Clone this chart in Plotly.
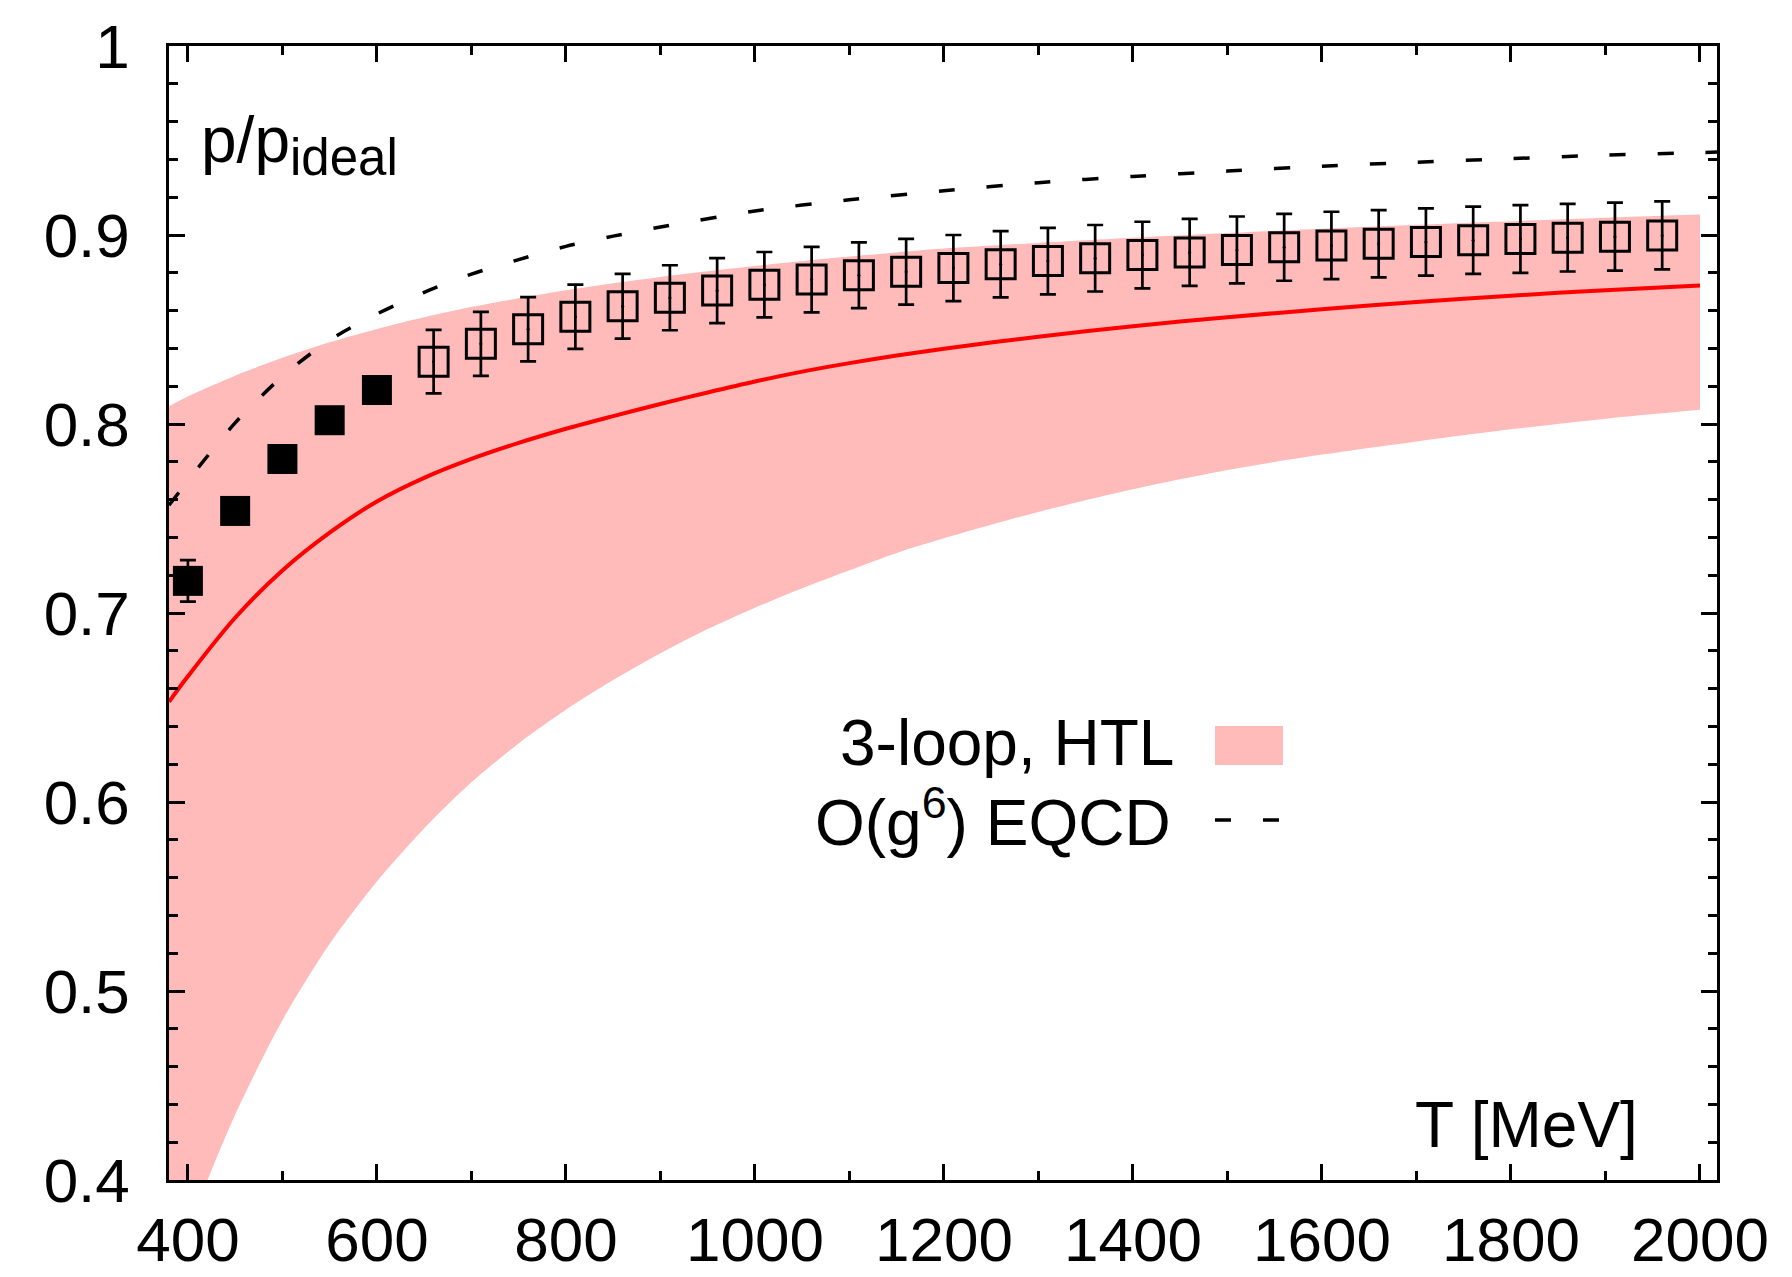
import plotly.graph_objects as go

# ---------------- data ----------------
# lattice data, filled squares
T_filled = [400, 450, 500, 550, 600]
p_filled = [0.717, 0.754, 0.7815, 0.802, 0.818]
err_filled = [0.011, 0.006, 0.006, 0.006, 0.006]

# lattice data, open squares
T_open = [660, 710, 760, 810, 860, 910, 960, 1010, 1060, 1110, 1160, 1210, 1260,
          1310, 1360, 1410, 1460, 1510, 1560, 1610, 1660, 1710, 1760, 1810, 1860,
          1910, 1960]
p_open = [0.833, 0.8424, 0.8501, 0.8567, 0.8623, 0.8668, 0.8706, 0.8737, 0.8764,
          0.8787, 0.8806, 0.8825, 0.8845, 0.8862, 0.8877, 0.8894, 0.8908, 0.8921,
          0.8935, 0.8945, 0.8954, 0.8963, 0.8972, 0.8979, 0.8986, 0.8991, 0.8998]
err_open = [0.0168, 0.0169, 0.017, 0.017, 0.0171, 0.0172, 0.0172, 0.0173, 0.0173,
            0.0174, 0.0174, 0.0175, 0.0175, 0.0176, 0.0176, 0.0176, 0.0177, 0.0177,
            0.0177, 0.0178, 0.0178, 0.0178, 0.0178, 0.0179, 0.0179, 0.018, 0.018]

# 3-loop HTL band (upper / lower) and central curve
T_htl = [380, 400, 450, 500, 550, 600, 650, 700, 750, 800, 850, 900, 950, 1000,
         1050, 1100, 1150, 1200, 1300, 1400, 1500, 1600, 1700, 1800, 1900, 2000]
htl_upper = [0.8094, 0.8145, 0.8255, 0.835, 0.8432, 0.8503, 0.8565, 0.8619, 0.8666,
             0.8708, 0.8745, 0.8778, 0.8808, 0.8836, 0.8862, 0.8886, 0.8908, 0.8928,
             0.8958, 0.8985, 0.901, 0.9033, 0.9054, 0.9073, 0.9091, 0.9108]
htl_lower = [0.346, 0.374, 0.4345, 0.4845, 0.525, 0.558, 0.586, 0.6104, 0.631,
             0.6488, 0.6645, 0.6787, 0.6915, 0.7028, 0.7131, 0.7226, 0.7318, 0.7395,
             0.7535, 0.7655, 0.7757, 0.7838, 0.7908, 0.7972, 0.8028, 0.8075]
htl_central = [0.653, 0.6665, 0.6975, 0.7225, 0.7425, 0.759, 0.7715, 0.7815, 0.790,
               0.7975, 0.8042, 0.8106, 0.8167, 0.8225, 0.8277, 0.8322, 0.8362,
               0.8398, 0.8462, 0.8517, 0.8565, 0.8607, 0.8645, 0.8679, 0.8708,
               0.8733]

# O(g^6) EQCD (dashed)
T_eqcd = [380, 400, 450, 500, 550, 600, 650, 700, 750, 800, 850, 900, 1000, 1100,
          1200, 1300, 1400, 1500, 1600, 1700, 1800, 1900, 2000, 2018]
p_eqcd = [0.757, 0.770, 0.8006, 0.8252, 0.8444, 0.8582, 0.8697, 0.8793, 0.887,
          0.894, 0.8994, 0.9042, 0.9127, 0.9186, 0.9234, 0.9277, 0.931, 0.9338,
          0.9364, 0.9385, 0.9404, 0.9423, 0.9436, 0.9439]

x_ticks = [400, 600, 800, 1000, 1200, 1400, 1600, 1800, 2000]
y_ticks = [0.4, 0.5, 0.6, 0.7, 0.8, 0.9, 1.0]
y_ticklabels = ["0.4", "0.5", "0.6", "0.7", "0.8", "0.9", "1"]

# ---------------- styling ----------------
BAND = "#ffbaba"
FONT = "Liberation Sans, Arial, Helvetica, sans-serif"
W, H = 1792, 1277
ML, MR, MT, MB = 169, 75, 46, 97
PW, PH = W - ML - MR, H - MT - MB


def px_x(px):
    return (px - ML) / PW


def px_y(py):
    return (H - MB - py) / PH


fig = go.Figure()

# band
fig.add_trace(go.Scatter(x=T_htl, y=htl_lower, mode="lines",
                         line=dict(width=0, color=BAND, shape="spline", smoothing=0.8),
                         hoverinfo="skip", showlegend=False))
fig.add_trace(go.Scatter(x=T_htl, y=htl_upper, mode="lines", fill="tonexty",
                         fillcolor=BAND,
                         line=dict(width=0, color=BAND, shape="spline", smoothing=0.8),
                         name="3-loop, HTL", showlegend=False))
# central curve
fig.add_trace(go.Scatter(x=T_htl, y=htl_central, mode="lines",
                         line=dict(color="#ff0000", width=4, shape="spline",
                                   smoothing=0.9),
                         showlegend=False))
# EQCD dashed
fig.add_trace(go.Scatter(x=T_eqcd, y=p_eqcd, mode="lines",
                         line=dict(color="black", width=3.5, dash="16px,32px",
                                   shape="spline", smoothing=0.8),
                         name="O(g6) EQCD", showlegend=False))
# open squares
fig.add_trace(go.Scatter(x=T_open, y=p_open, mode="markers",
                         marker=dict(symbol="square-open", size=29, color="black",
                                     line=dict(width=3, color="black")),
                         error_y=dict(type="data", array=err_open, visible=True,
                                      color="black", thickness=2.7, width=8),
                         showlegend=False))
fig.add_trace(go.Scatter(x=T_open, y=p_open, mode="markers",
                         marker=dict(symbol="circle", size=3, color="black"),
                         showlegend=False, hoverinfo="skip"))
# filled squares
fig.add_trace(go.Scatter(x=T_filled, y=p_filled, mode="markers",
                         marker=dict(symbol="square", size=30, color="black",
                                     line=dict(width=0)),
                         error_y=dict(type="data", array=err_filled, visible=True,
                                      color="black", thickness=2.7, width=8),
                         showlegend=False))

axis_common = dict(showgrid=False, zeroline=False, showline=True, linecolor="black",
                   linewidth=2.5, mirror="ticks", ticks="inside", ticklen=16,
                   tickwidth=2.5, tickcolor="black", automargin=False,
                   tickfont=dict(family=FONT, size=62, color="black"))

fig.update_xaxes(range=[380, 2018], tickvals=x_ticks,
                 minor=dict(dtick=100, tick0=400, ticks="inside", ticklen=9,
                            tickwidth=2.5, tickcolor="black", showgrid=False),
                 ticklabelstandoff=4, **axis_common)
fig.update_yaxes(range=[0.4, 1.0], tickvals=y_ticks, ticktext=y_ticklabels,
                 minor=dict(dtick=0.02, tick0=0.4, ticks="inside", ticklen=9,
                            tickwidth=2.5, tickcolor="black", showgrid=False),
                 ticklabelstandoff=24, **axis_common)

annotations = [
    dict(text='p/p<sub><span style="font-size:51px">ideal</span></sub>',
         x=px_x(199), y=px_y(102), xref="paper", yref="paper",
         xanchor="left", yanchor="top", showarrow=False,
         font=dict(family=FONT, size=64, color="black")),
    dict(text="T [MeV]", x=px_x(1413), y=px_y(1163), xref="paper", yref="paper",
         xanchor="left", yanchor="bottom", showarrow=False,
         font=dict(family=FONT, size=64, color="black")),
    dict(text="3-loop, HTL", x=px_x(1176), y=px_y(781), xref="paper", yref="paper",
         xanchor="right", yanchor="bottom", showarrow=False,
         font=dict(family=FONT, size=64, color="black")),
    dict(text="O(g<sup>6</sup>) EQCD", x=px_x(1173), y=px_y(861), xref="paper",
         yref="paper", xanchor="right", yanchor="bottom", showarrow=False,
         font=dict(family=FONT, size=64, color="black")),
]

shapes = [
    dict(type="rect", xref="paper", yref="paper", x0=px_x(1215), x1=px_x(1283),
         y0=px_y(765), y1=px_y(726), fillcolor=BAND, line=dict(width=0)),
    dict(type="line", xref="paper", yref="paper", x0=px_x(1215), x1=px_x(1280),
         y0=px_y(820), y1=px_y(820), line=dict(color="black", width=3.5,
                                               dash="16px,32px")),
]

fig.update_layout(width=W, height=H, margin=dict(l=ML, r=MR, t=MT, b=MB, pad=0),
                  paper_bgcolor="white", plot_bgcolor="white",
                  showlegend=False, annotations=annotations, shapes=shapes,
                  font=dict(family=FONT, color="black"))

fig.write_html("out.html", config={"displayModeBar": False},
               post_script="document.body.style.margin='0';")
